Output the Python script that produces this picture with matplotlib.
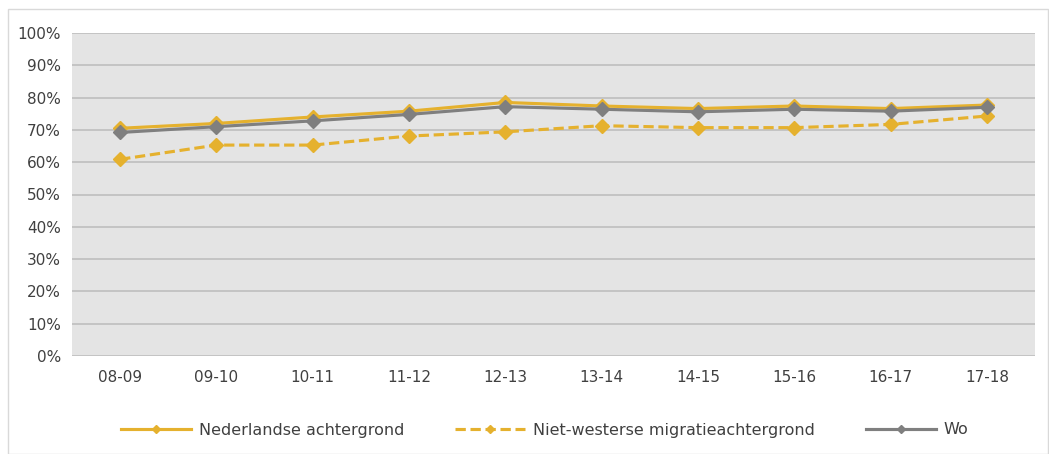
import matplotlib
matplotlib.use("Agg")
import matplotlib.pyplot as plt
from matplotlib.patches import Rectangle

categories = ["08-09", "09-10", "10-11", "11-12", "12-13", "13-14", "14-15", "15-16", "16-17", "17-18"]
nederlandse = [70.5, 72.0, 74.0, 75.8, 78.5, 77.4, 76.6, 77.4, 76.6, 77.7]
niet_westers = [60.9, 65.3, 65.3, 68.1, 69.4, 71.3, 70.7, 70.7, 71.7, 74.3]
wo = [69.2, 71.0, 72.8, 74.8, 77.2, 76.4, 75.6, 76.4, 75.8, 77.0]
yticks = [0, 10, 20, 30, 40, 50, 60, 70, 80, 90, 100]
labels = ["Nederlandse achtergrond", "Niet-westerse migratieachtergrond", "Wo"]

plt.rcParams['font.family'] = ['DejaVu Sans']
W, H = 1049, 454
fig = plt.figure(figsize=(W/100, H/100), dpi=100)
fig.patch.set_facecolor("white")
fig.patches.append(Rectangle((8/W, 0), (W-8)/W - 1/W, 1 - 9/H, transform=fig.transFigure,
                             fill=False, edgecolor="#D9D9D9", linewidth=1))

ax = fig.add_axes([72/W, 1 - 356/H, (1035-72)/W, (356-33)/H])
ax.set_facecolor("#E4E4E4")
x = list(range(len(categories)))
orange = "#E5B12E"
grey = "#7F7F7F"
ax.plot(x, nederlandse, color=orange, lw=2.25, marker="D", ms=7, label=labels[0], zorder=4)
ax.plot(x, niet_westers, color=orange, lw=2.25, ls=(0, (3.3, 1.5)), marker="D", ms=7, label=labels[1], zorder=3)
ax.plot(x, wo, color=grey, lw=2.25, marker="D", ms=7, label=labels[2], zorder=5)

ax.set_xlim(-0.5, len(categories) - 0.5)
ax.set_ylim(0, 100)
ax.set_yticks(yticks)
ax.set_yticklabels([f"{v}%" for v in yticks])
ax.set_xticks(x)
ax.set_xticklabels(categories)
ax.grid(axis="y", color="#BEBEBE", lw=1.2)
ax.set_axisbelow(True)
for s in ax.spines.values():
    s.set_visible(False)
ax.tick_params(length=0, labelsize=11, colors="#404040")
ax.tick_params(axis="x", pad=10)
ax.tick_params(axis="y", pad=8)

leg = fig.legend(loc="center", bbox_to_anchor=(0.519, 1 - 430/H), ncol=3, frameon=False,
                 fontsize=11.5, handlelength=4.4, handletextpad=0.45, columnspacing=3.2,
                 markerscale=0.6, labelcolor="#404040")
fig.savefig("out.png", dpi=100)
